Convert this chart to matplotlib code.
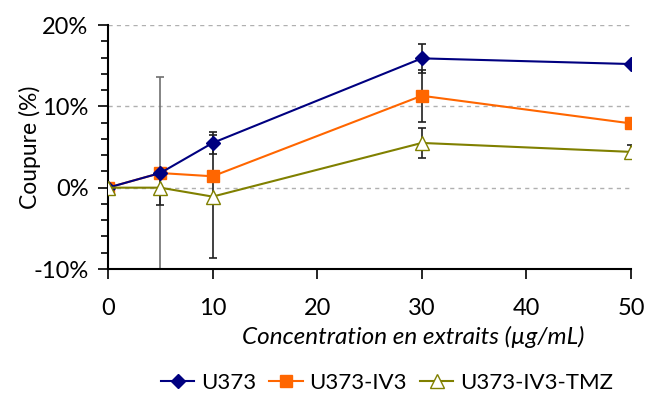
import matplotlib.pyplot as plt
from matplotlib.ticker import MultipleLocator, FuncFormatter

plt.rcParams['font.family'] = ['Lato', 'DejaVu Sans']

# concentrations (µg/mL)
conc = [0, 5, 10, 30, 50]

# cut percentages
u373 = [0.0, 1.8, 5.5, 15.9, 15.2]
u373_err = [0.0, 11.8, 1.4, 1.8, 0.0]
iv3 = [0.0, 1.8, 1.4, 11.3, 7.9]
iv3_err = [0.0, 0.0, 0.0, 3.2, 0.0]
tmz = [0.0, 0.0, -1.1, 5.5, 4.4]
tmz_err = [0.0, 2.1, 7.6, 1.8, 0.9]

labels = ['U373', 'U373-IV3', 'U373-IV3-TMZ']

fig = plt.figure(figsize=(6.47, 4.01), dpi=100)
ax = fig.add_axes([108 / 647, 1 - 269 / 401, (631 - 108) / 647, (269 - 25) / 401])

# grid lines
for g in [20, 10, 0]:
    ax.axhline(g, color='#b0b0b0', lw=1, ls=(0, (3, 3)), zorder=0)

# error bars (drawn under the markers); the large one is grey in the original
errs = [(u373, u373_err), (iv3, iv3_err), (tmz, tmz_err)]
for vals, err in errs:
    for c, v, e in zip(conc, vals, err):
        if e > 0:
            col = '#707070' if e > 10 else '#202020'
            ax.errorbar([c], [v], yerr=[e], fmt='none', ecolor=col, elinewidth=1.2,
                        capsize=3, capthick=1.2, zorder=2)

ax.plot(conc, u373, color='#000080', marker='D', ms=7, lw=1.5, label=labels[0], zorder=4)
ax.plot(conc, iv3, color='#FF6600', marker='s', ms=9, lw=1.5, label=labels[1], zorder=3)
ax.plot(conc, tmz, color='#808000', marker='^', ms=10, mfc='white', mec='#808000',
        lw=1.5, label=labels[2], zorder=5)

ax.set_xlim(0, 50)
ax.set_ylim(-10, 20)
ax.set_xticks([0, 10, 20, 30, 40, 50])
ax.yaxis.set_major_locator(MultipleLocator(10))
ax.yaxis.set_minor_locator(MultipleLocator(2))
ax.yaxis.set_major_formatter(FuncFormatter(lambda v, p: f'{v:.0f}%'))

for s in ['top', 'right']:
    ax.spines[s].set_visible(False)
for s in ['left', 'bottom']:
    ax.spines[s].set_linewidth(1.5)
    ax.spines[s].set_color('black')

ax.tick_params(axis='both', which='major', labelsize=17, length=7, width=1.2, direction='out')
ax.tick_params(axis='y', which='minor', length=5, width=1.2, direction='out')
ax.tick_params(axis='x', pad=14)
ax.tick_params(axis='y', pad=7)

ax.set_ylabel('Coupure (%)', fontsize=16.5)
ax.yaxis.set_label_coords(-0.128, 0.5)
ax.set_xlabel('Concentration en extraits (µg/mL)', fontsize=17.5, style='italic')
ax.xaxis.set_label_coords(0.583, -0.28)
ax.xaxis.label.set_va('center')

fig.legend(loc='center', bbox_to_anchor=(387 / 647, 1 - 383 / 401), ncol=3, frameon=False,
           fontsize=16, handlelength=1.5, handletextpad=0.3, columnspacing=0.6)

fig.savefig('out.png', dpi=100)
